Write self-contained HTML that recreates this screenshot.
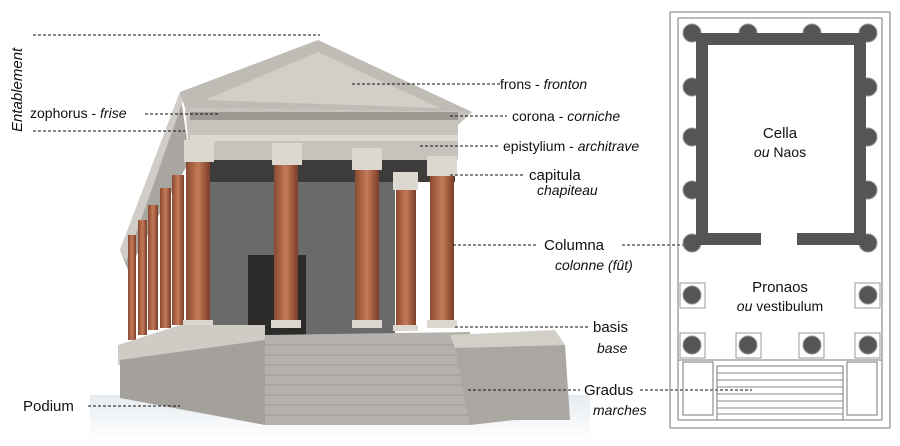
<!DOCTYPE html>
<html><head><meta charset="utf-8"><style>
html,body{margin:0;padding:0;background:#fff;}
svg{display:block;font-family:"Liberation Sans",sans-serif;}
text{font-size:14px;fill:#111;}
.i{font-style:italic;}
.d{stroke:#111;stroke-width:1;stroke-dasharray:3,2;fill:none;}
</style></head><body>
<svg width="900" height="446" viewBox="0 0 900 446" xmlns="http://www.w3.org/2000/svg">
<defs>
<linearGradient id="col" x1="0" x2="1"><stop offset="0" stop-color="#8a4a30"/><stop offset="0.5" stop-color="#c47a58"/><stop offset="1" stop-color="#7a3e28"/></linearGradient>
<linearGradient id="ground" x1="0" y1="0" x2="0" y2="1"><stop offset="0" stop-color="#e6ebef"/><stop offset="1" stop-color="#fff"/></linearGradient>
</defs>
<rect x="90" y="395" width="500" height="45" fill="url(#ground)"/>
<polygon points="180,92 190,160 128,270 120,250" fill="#a9a6a1"/>
<polygon points="120,250 180,92 184,98 126,262" fill="#d0cdc8"/>
<polygon points="180,92 318,40 472,112 185,108" fill="#bfbbb5"/>
<polygon points="205,100 318,52 440,108" fill="#d2cec8"/>
<polygon points="185,108 472,112 458,125 458,160 190,160" fill="#c6c2bc"/>
<rect x="190" y="112" width="268" height="8" fill="#9c9892"/>
<rect x="190" y="135" width="268" height="6" fill="#dcd8d2"/>
<rect x="205" y="160" width="190" height="180" fill="#6a6a6a"/>
<rect x="205" y="160" width="250" height="22" fill="#3e3c3a"/>
<rect x="248" y="255" width="58" height="80" fill="#2d2b29"/>
<g fill="url(#col)">
<rect x="128" y="235" width="8" height="105"/><rect x="138" y="220" width="9" height="115"/>
<rect x="148" y="205" width="10" height="125"/><rect x="160" y="188" width="11" height="140"/>
<rect x="172" y="175" width="12" height="150"/>
<rect x="186" y="160" width="24" height="165"/><rect x="274" y="160" width="24" height="165"/>
<rect x="355" y="160" width="24" height="165"/><rect x="396" y="180" width="20" height="150"/>
<rect x="430" y="165" width="24" height="160"/>
</g>
<g fill="#dcd8d0">
<rect x="184" y="140" width="30" height="22"/><rect x="272" y="143" width="30" height="22"/>
<rect x="352" y="148" width="30" height="22"/><rect x="393" y="172" width="25" height="18"/>
<rect x="427" y="156" width="30" height="20"/>
<rect x="183" y="320" width="30" height="8"/><rect x="271" y="320" width="30" height="8"/>
<rect x="352" y="320" width="30" height="8"/><rect x="393" y="325" width="25" height="6"/>
<rect x="427" y="320" width="30" height="8"/>
</g>
<polygon points="118,345 180,325 265,325 265,345 118,365" fill="#cfcbc5"/>
<polygon points="120,360 265,340 265,425 120,398" fill="#a4a19c"/>
<polygon points="265,335 470,332 470,425 265,425" fill="#b5b2ad"/>
<g stroke="#9c9994" stroke-width="1">
<line x1="265" y1="345" x2="470" y2="345"/><line x1="265" y1="355" x2="470" y2="355"/>
<line x1="265" y1="365" x2="470" y2="365"/><line x1="265" y1="375" x2="470" y2="375"/>
<line x1="265" y1="385" x2="470" y2="385"/><line x1="265" y1="395" x2="470" y2="395"/>
<line x1="265" y1="405" x2="470" y2="405"/><line x1="265" y1="415" x2="470" y2="415"/>
</g>
<polygon points="450,335 555,330 565,345 455,348" fill="#d2cec8"/>
<polygon points="455,348 565,345 570,420 515,420 470,425" fill="#aaa7a2"/>
<text transform="translate(22,132) rotate(-90)" class="i" style="font-size:15px">Entablement</text>
<line class="d" x1="33" y1="35" x2="320" y2="35"/>
<line class="d" x1="33" y1="131" x2="185" y2="131"/>
<text x="30" y="118">zophorus - <tspan class="i">frise</tspan></text>
<line class="d" x1="145" y1="114" x2="220" y2="114"/>
<line class="d" x1="352" y1="84" x2="500" y2="84"/>
<text x="500" y="89">frons - <tspan class="i">fronton</tspan></text>
<line class="d" x1="450" y1="116" x2="507" y2="116"/>
<text x="512" y="121">corona - <tspan class="i">corniche</tspan></text>
<line class="d" x1="420" y1="146" x2="498" y2="146"/>
<text x="503" y="151">epistylium - <tspan class="i">architrave</tspan></text>
<line class="d" x1="450" y1="175" x2="524" y2="175"/>
<text x="529" y="180" style="font-size:15px">capitula</text>
<text x="537" y="195" class="i">chapiteau</text>
<line class="d" x1="453" y1="245" x2="538" y2="245"/>
<text x="544" y="250" style="font-size:15px">Columna</text>
<line class="d" x1="622" y1="245" x2="690" y2="245"/>
<text x="555" y="270" class="i">colonne (fût)</text>
<line class="d" x1="455" y1="327" x2="588" y2="327"/>
<text x="593" y="332" style="font-size:15px">basis</text>
<text x="597" y="353" class="i">base</text>
<line class="d" x1="468" y1="390" x2="580" y2="390"/>
<text x="584" y="395" style="font-size:15px">Gradus</text>
<line class="d" x1="640" y1="390" x2="752" y2="390"/>
<text x="593" y="415" class="i">marches</text>
<text x="23" y="411" style="font-size:15px">Podium</text>
<line class="d" x1="88" y1="406" x2="180" y2="406"/>
<g fill="none" stroke="#777" stroke-width="1">
<rect x="670" y="12" width="220" height="416"/>
<rect x="678" y="18" width="204" height="402"/>
<line x1="678" y1="360" x2="882" y2="360"/>
<rect x="683" y="362" width="30" height="53"/><rect x="847" y="362" width="30" height="53"/>
<rect x="717" y="366" width="126" height="54"/>
</g>
<g stroke="#888" stroke-width="1">
<line x1="717" y1="373" x2="843" y2="373"/><line x1="717" y1="380" x2="843" y2="380"/>
<line x1="717" y1="387" x2="843" y2="387"/><line x1="717" y1="394" x2="843" y2="394"/>
<line x1="717" y1="401" x2="843" y2="401"/><line x1="717" y1="408" x2="843" y2="408"/>
<line x1="717" y1="414" x2="843" y2="414"/>
</g>
<g fill="none" stroke="#999" stroke-width="1">
<rect x="680" y="283" width="25" height="25"/><rect x="855" y="283" width="25" height="25"/>
<rect x="680" y="333" width="25" height="25"/><rect x="736" y="333" width="25" height="25"/>
<rect x="799" y="333" width="25" height="25"/><rect x="855" y="333" width="25" height="25"/>
</g>
<g fill="#555" stroke="#999" stroke-width="1">
<circle cx="692" cy="33" r="9"/><circle cx="748" cy="33" r="9"/><circle cx="812" cy="33" r="9"/><circle cx="868" cy="33" r="9"/>
<circle cx="692" cy="87" r="9"/><circle cx="868" cy="87" r="9"/>
<circle cx="692" cy="137" r="9"/><circle cx="868" cy="137" r="9"/>
<circle cx="692" cy="190" r="9"/><circle cx="868" cy="190" r="9"/>
<circle cx="692" cy="243" r="9"/><circle cx="868" cy="243" r="9"/>
<circle cx="692" cy="295" r="9"/><circle cx="868" cy="295" r="9"/>
<circle cx="692" cy="345" r="9"/><circle cx="748" cy="345" r="9"/><circle cx="812" cy="345" r="9"/><circle cx="868" cy="345" r="9"/>
</g>
<path d="M696,33 H866 V245 H797 V233 H854 V45 H708 V233 H761 V245 H696 Z" fill="#555"/>
<text x="780" y="138" text-anchor="middle" style="font-size:15px">Cella</text>
<text x="780" y="157" text-anchor="middle"><tspan class="i">ou</tspan> Naos</text>
<text x="780" y="292" text-anchor="middle" style="font-size:15px">Pronaos</text>
<text x="780" y="311" text-anchor="middle"><tspan class="i">ou</tspan> vestibulum</text>
</svg>
</body></html>
